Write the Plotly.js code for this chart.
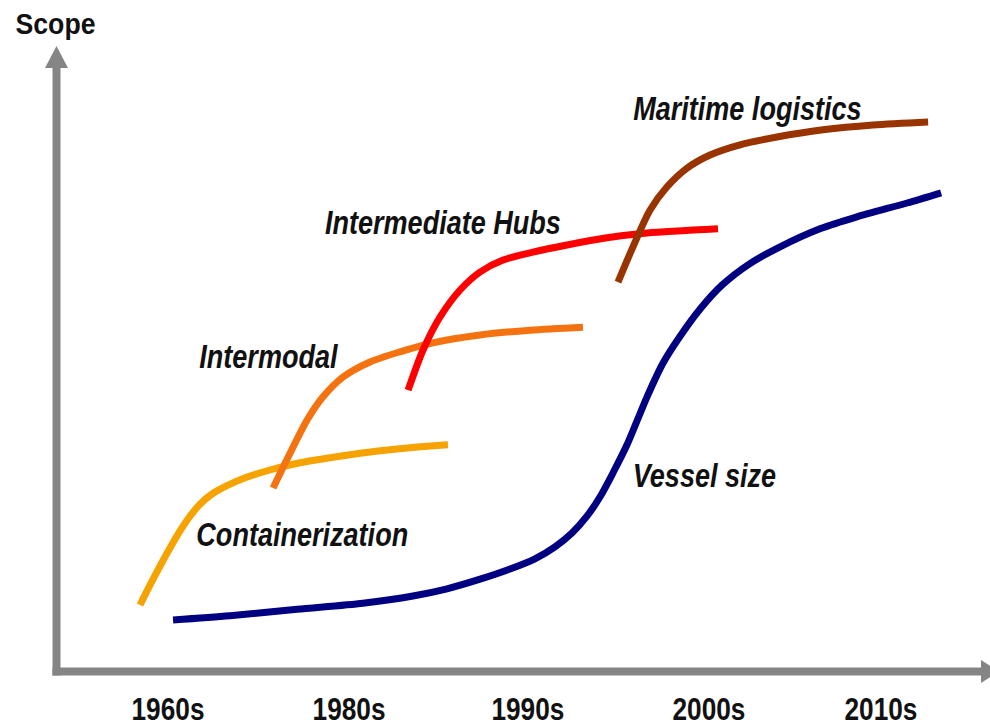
<!DOCTYPE html>
<html>
<head>
<meta charset="utf-8">
<script src="https://cdn.plot.ly/plotly-3.0.1.min.js"></script>
<style>
html,body{margin:0;padding:0;background:#fff;}
#chart{width:990px;height:726px;}
.narrow{transform-box:fill-box;transform-origin:center;}
</style>
</head>
<body>
<div id="chart"></div>
<script>
// Tick labels (decade positions on the horizontal axis)
var tickPositions = [1, 2.003, 2.994, 3.997, 4.95];
var tickLabels = ["1960s", "1980s", "1990s", "2000s", "2010s"];

// Series names
var seriesNames = ["Containerization", "Intermodal", "Intermediate Hubs", "Maritime logistics", "Vessel size"];

// Containerization
var contX = [0.845, 0.900, 0.956, 1.011, 1.066, 1.122, 1.177, 1.244, 1.321, 1.427, 1.565, 1.731, 1.953, 2.175, 2.369, 2.551];
var contY = [11.0, 14.3, 17.5, 20.5, 23.3, 25.8, 27.8, 29.5, 30.8, 32.2, 33.5, 34.7, 35.8, 36.7, 37.3, 37.7];

// Intermodal
var interX = [1.582, 1.676, 1.770, 1.859, 1.970, 2.119, 2.285, 2.468, 2.729, 3.006, 3.299];
var interY = [30.5, 36.3, 41.8, 45.7, 49.0, 51.5, 53.2, 54.7, 56.0, 56.8, 57.3];

// Intermediate Hubs
var hubsX = [2.330, 2.413, 2.507, 2.618, 2.729, 2.856, 3.022, 3.211, 3.432, 3.654, 4.047];
var hubsY = [46.8, 53.5, 59.0, 63.5, 66.5, 68.5, 69.8, 71.0, 72.2, 73.0, 73.7];

// Maritime logistics
var mariX = [3.493, 3.576, 3.670, 3.765, 3.875, 4.003, 4.169, 4.374, 4.629, 4.906, 5.211];
var mariY = [64.8, 70.7, 76.8, 80.7, 83.8, 86.0, 87.7, 89.0, 90.2, 91.0, 91.5];

// Vessel size
var vessX = [1.028, 1.343, 1.715, 2.080, 2.357, 2.546, 2.729, 2.895, 3.033, 3.144, 3.238, 3.321, 3.393,
             3.465, 3.543, 3.654, 3.742, 3.837, 3.947, 4.069, 4.224, 4.391, 4.612, 4.817, 5.094, 5.283];
var vessY = [8.5, 9.2, 10.3, 11.3, 12.5, 13.7, 15.3, 17.0, 18.7, 20.7, 23.0, 25.8, 29.0,
             33.0, 37.7, 45.7, 51.3, 55.8, 60.3, 64.3, 67.9, 70.7, 73.7, 75.7, 78.0, 79.7];

var colors = ["#F6A300", "#F57210", "#FF0000", "#993300", "#000080"];
var xs = [contX, interX, hubsX, mariX, vessX];
var ys = [contY, interY, hubsY, mariY, vessY];

var traces = [];
for (var i = 0; i < xs.length; i++) {
  traces.push({
    type: "scatter", mode: "lines", name: seriesNames[i],
    x: xs[i], y: ys[i],
    line: {color: colors[i], width: 7, shape: "spline", smoothing: 0.8},
    hoverinfo: "skip"
  });
}

// plot area in pixels
var L = 56, R = 990, T = 47, B = 671;
function px(x) { return (x - L) / (R - L); }
function py(y) { return (B - y) / (B - T); }

var gray = "#858585";
var shapes = [
  {type: "line", xref: "paper", yref: "paper", x0: px(56.5), x1: px(56.5), y0: py(675.5), y1: py(66),
   line: {color: gray, width: 8}},
  {type: "path", xref: "paper", yref: "paper",
   path: "M" + px(45) + "," + py(68) + " L" + px(68) + "," + py(68) + " L" + px(56.5) + "," + py(46) + " Z",
   fillcolor: gray, line: {width: 0}},
  {type: "line", xref: "paper", yref: "paper", x0: px(52.5), x1: px(983), y0: py(671.5), y1: py(671.5),
   line: {color: gray, width: 8}},
  {type: "path", xref: "paper", yref: "paper",
   path: "M" + px(981) + "," + py(660) + " L" + px(981) + "," + py(683) + " L" + px(999) + "," + py(671.5) + " Z",
   fillcolor: gray, line: {width: 0}}
];

var FONT = "Liberation Sans, Arial, sans-serif";
function lab(text, x, y, italic, size) {
  return {text: text, xref: "paper", yref: "paper", x: px(x), y: py(y), xanchor: "center", yanchor: "middle",
          showarrow: false, font: {family: FONT, size: size, color: "#111111", weight: "bold", style: italic ? "italic" : "normal"}};
}
var annotations = [
  lab("Scope", 55, 24, false, 29),
  lab(seriesNames[3], 747, 108, true, 33),
  lab(seriesNames[2], 443, 222, true, 33),
  lab(seriesNames[1], 269, 356, true, 33),
  lab(seriesNames[0], 302, 534, true, 33),
  lab(seriesNames[4], 704, 475, true, 33)
];

var layout = {
  width: 990, height: 726,
  margin: {l: L, r: 990 - R, t: T, b: 726 - B, pad: 0},
  paper_bgcolor: "#ffffff", plot_bgcolor: "#ffffff",
  showlegend: false,
  xaxis: {range: [0.3795, 5.554], showgrid: false, zeroline: false, showline: false,
          tickmode: "array", tickvals: tickPositions, ticktext: tickLabels, ticks: "",
          tickfont: {family: FONT, size: 32, color: "#111111", weight: "bold"}, ticklabelstandoff: 16},
  yaxis: {range: [0, 104], showgrid: false, zeroline: false, showline: false, showticklabels: false, ticks: ""},
  shapes: shapes,
  annotations: annotations
};

Plotly.newPlot("chart", traces, layout, {displayModeBar: false, staticPlot: true}).then(function (gd) {
  // the reference uses a condensed face: compress the text horizontally
  gd.querySelectorAll(".annotation-text").forEach(function (t) {
    var isScope = t.textContent === "Scope";
    t.classList.add("narrow");
    t.style.transform = "scaleX(" + (isScope ? 0.92 : 0.82) + ")";
  });
  gd.querySelectorAll(".xtick text").forEach(function (t) {
    var old = t.getAttribute("transform") || "";
    var cx = parseFloat(t.getAttribute("x")) || 0;
    t.setAttribute("transform", old + " translate(" + cx + ",0) scale(0.82,1) translate(" + (-cx) + ",0)");
  });
});
</script>
</body>
</html>
